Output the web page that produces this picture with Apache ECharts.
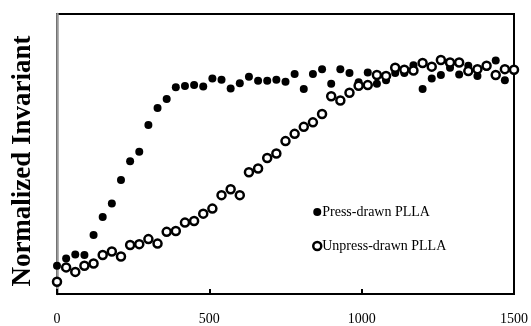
<!DOCTYPE html>
<html>
<head>
<meta charset="utf-8">
<script src="https://cdn.jsdelivr.net/npm/echarts@6/dist/echarts.min.js"></script>
<style>
  html, body { margin: 0; padding: 0; background: #fff; }
  #chart { width: 531px; height: 326px; }
</style>
</head>
<body>
<div id="chart"></div>
<script>
// time axis, every 30 units from 0 to 1500
var times = []
for (var t = 0; t <= 1500; t += 30) times.push(t)

// normalized invariant (arbitrary 0-100 scale, axis has no labels)
var pressDrawn = [
  10.1, 12.7, 14.1, 13.9, 21.1, 27.5, 32.3, 40.7, 47.4, 50.8,
  60.4, 66.4, 69.6, 73.8, 74.3, 74.6, 74.1, 77.0, 76.5, 73.4,
  75.3, 77.6, 76.2, 76.2, 76.5, 75.8, 78.6, 73.2, 78.6, 80.3,
  75.1, 80.3, 78.9, 75.6, 79.1, 75.1, 76.3, 78.9, 78.9, 81.7,
  73.2, 77.0, 78.2, 80.8, 78.4, 81.5, 77.9, 81.2, 83.4, 76.3,
  79.8
]
var unpressDrawn = [
  4.4, 9.5, 7.9, 10.1, 10.9, 13.9, 15.2, 13.4, 17.5, 17.8,
  19.6, 18.0, 22.2, 22.5, 25.5, 26.1, 28.7, 30.5, 35.3, 37.4,
  35.3, 43.5, 44.8, 48.6, 50.2, 54.6, 57.2, 59.7, 61.3, 64.3,
  70.6, 69.1, 71.9, 74.4, 74.6, 78.2, 77.9, 80.8, 80.1, 79.8,
  82.5, 81.2, 83.6, 82.7, 82.7, 79.6, 80.3, 81.5, 78.2, 80.3,
  80.1
]
var xTicks = [0, 500, 1000, 1500]

function pairs(ys) {
  return times.map(function (x, i) { return [x, ys[i]] })
}

var chart = echarts.init(document.getElementById('chart'), null, { renderer: 'canvas' })
chart.setOption({
  backgroundColor: '#ffffff',
  animation: false,
  textStyle: { fontFamily: 'Liberation Serif' },
  grid: {
    left: 57,
    right: 16,
    top: 14,
    bottom: 31,
    show: true,
    borderColor: '#000',
    borderWidth: 2
  },
  legend: {
    orient: 'vertical',
    left: 307,
    top: 200,
    itemGap: 20,
    itemWidth: 8,
    itemHeight: 8,
    itemStyle: { borderWidth: 0 },
    textStyle: { fontFamily: 'Liberation Serif', fontSize: 14, color: '#000', padding: [0, 0, 0, -4] },
    data: [
      { name: 'Press-drawn PLLA', icon: 'circle', itemStyle: { color: '#000' } },
      { name: 'Unpress-drawn PLLA', icon: 'circle', itemStyle: { color: '#fff', borderColor: '#000', borderWidth: 2.5 } }
    ]
  },
  xAxis: {
    type: 'value',
    min: 0,
    max: 1500,
    interval: 500,
    axisLine: { lineStyle: { color: '#000', width: 2 } },
    axisTick: { inside: true, length: 5, lineStyle: { color: '#000', width: 2 } },
    axisLabel: {
      margin: 18,
      fontFamily: 'Liberation Serif',
      fontSize: 14,
      color: '#000',
      customValues: xTicks,
      formatter: function (v) { return String(v) }
    },
    splitLine: { show: false }
  },
  yAxis: {
    type: 'value',
    min: 0,
    max: 100,
    name: 'Normalized Invariant',
    nameLocation: 'middle',
    nameGap: 20,
    nameTextStyle: {
      fontFamily: 'Liberation Serif',
      fontWeight: 'bold',
      fontSize: 27,
      color: '#000',
      padding: [0, 0, 0, -14]
    },
    axisLine: { show: true, lineStyle: { color: '#999', width: 2.5 } },
    axisTick: { show: false },
    axisLabel: { show: false },
    splitLine: { show: false }
  },
  series: [
    {
      name: 'Press-drawn PLLA',
      type: 'scatter',
      symbol: 'circle',
      symbolSize: 8,
      itemStyle: { color: '#000', opacity: 1 },
      data: pairs(pressDrawn)
    },
    {
      name: 'Unpress-drawn PLLA',
      type: 'scatter',
      symbol: 'circle',
      symbolSize: 8,
      itemStyle: { color: '#fff', borderColor: '#000', borderWidth: 2.5, opacity: 1 },
      data: pairs(unpressDrawn)
    }
  ]
})
</script>
</body>
</html>
